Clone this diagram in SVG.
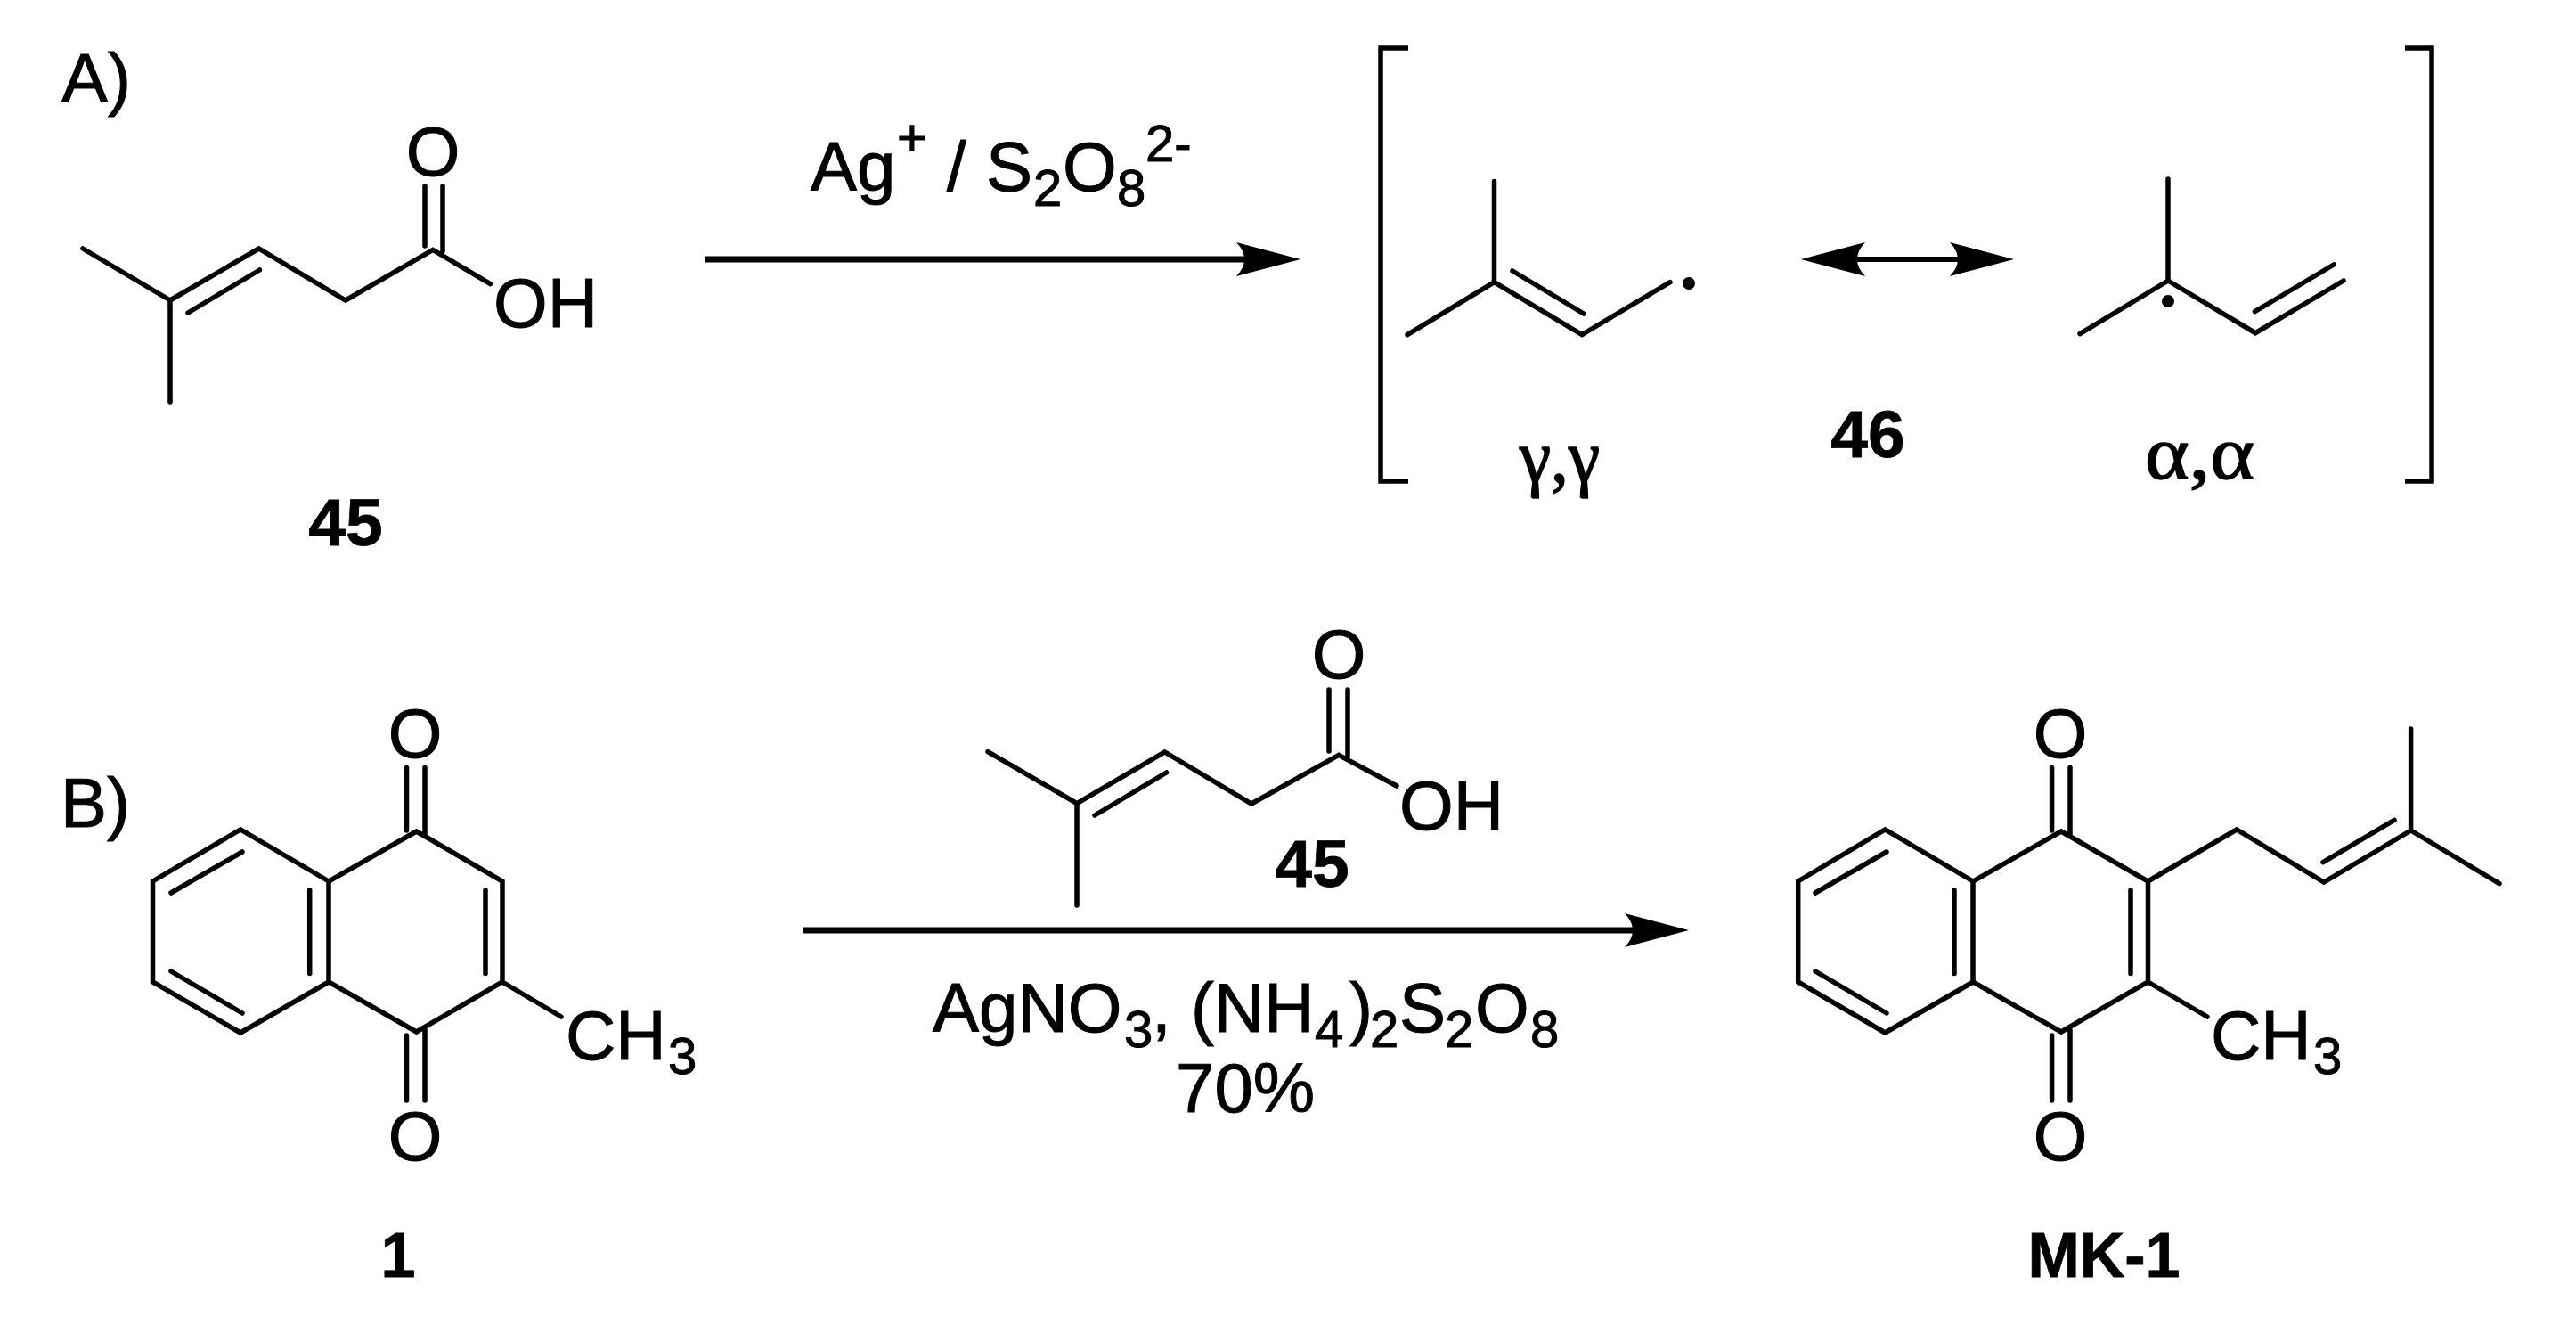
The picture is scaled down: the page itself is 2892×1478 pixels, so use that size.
<svg xmlns="http://www.w3.org/2000/svg" width="2892" height="1478" viewBox="0 0 2892 1478">
<style>
text{font-family:"Liberation Sans",Arial,sans-serif;fill:#000}
.t{font-size:78px;stroke:#000;stroke-width:1}
.s{font-size:58px;stroke:#000;stroke-width:1}
.b{font-size:75px;font-weight:700;stroke:#000;stroke-width:.8}
.c{font-size:70px;font-weight:700;stroke:#000;stroke-width:.8}
.g{font-family:"Liberation Serif","Times New Roman",serif;font-size:84px;stroke:#000;stroke-width:1.5}
.m{text-anchor:middle}
.bond{fill:none;stroke:#000;stroke-width:5.500;stroke-linecap:round;stroke-linejoin:miter}
.arrow{fill:none;stroke:#000;stroke-width:7}
.brk{fill:none;stroke:#000;stroke-width:5.500}
</style>
<defs>
<marker id="head" markerUnits="userSpaceOnUse" markerWidth="72" markerHeight="38" viewBox="0 0 72 38" refX="12" refY="19" orient="auto-start-reverse">
<path d="M72 19L0 0Q18 19 0 38Z" fill="#000"/>
</marker>
</defs>
<rect width="2892" height="1478" fill="#fff"/>
<g id="connectors">
<path class="arrow" d="M791 291H1400" marker-end="url(#head)"/>
<path class="arrow" style="stroke-width:6" d="M2082 291H2201" marker-start="url(#head)" marker-end="url(#head)"/>
<path class="arrow" d="M901 1044H1836" marker-end="url(#head)"/>
</g>
<g id="label-a"><text class="t" x="69" y="115">A)</text></g>
<g id="label-b"><text class="t" x="68" y="928">B)</text></g>
<g id="compound-45-a">
<path class="bond" d="M93 279L191 337V451M191 337L290.500 279L388 337L486 280.400L550.500 318.600M211 351L291.400 303M477 209V276M497 209V282"/>
<text class="t m" x="486" y="197">O</text>
<text class="t" x="554" y="367">OH</text>
<text class="b m" x="388" y="612">45</text>
</g>
<g id="conditions-a">
<text class="t" x="910" y="214">Ag</text>
<text class="s" x="1007" y="174">+</text>
<text class="t" x="1063" y="214">/</text>
<text class="t" x="1107" y="214">S</text>
<text class="s" x="1160" y="231">2</text>
<text class="t" x="1193" y="214">O</text>
<text class="s" x="1254" y="231">8</text>
<text class="s" x="1286" y="181">2-</text>
</g>
<g id="bracket-left"><path class="brk" d="M1581 54H1550V540H1581"/></g>
<g id="bracket-right"><path class="brk" d="M2700 54H2730V540H2700"/></g>
<g id="radical-gamma">
<path class="bond" d="M1677.500 203.600V316.700L1580 375.600M1677.500 316.700L1776 375.600L1875 316.700M1698 304L1778 352"/>
<ellipse cx="1896" cy="318" rx="7" ry="7"/>
<text class="g" x="1706" y="541" textLength="90" lengthAdjust="spacingAndGlyphs">γ,γ</text>
</g>
<g id="compound-46"><text class="b m" x="2097" y="513">46</text></g>
<g id="radical-alpha">
<path class="bond" d="M2434 201V315L2335 374.600M2434 315L2532 373.700L2631 315M2531.400 349.700L2620 297"/>
<ellipse cx="2434" cy="338" rx="7" ry="7"/>
<text class="g" x="2408" y="537" textLength="123" lengthAdjust="spacingAndGlyphs">α,α</text>
</g>
<g id="compound-1">
<path class="bond" d="M467.500 933L564 989V1102L467.500 1158L369 1102V989ZM369 989L270 931L171.500 989V1102L270 1159L369 1102M272 956L192 1002M347.700 999V1092.400M192 1090L272 1137M545 999V1092.400M564 1102L630 1141M456.500 861.500V932M477 861.500V938M456.500 1162V1235M477 1156V1235"/>
<text class="t m" x="466" y="850">O</text>
<text class="t m" x="466" y="1302">O</text>
<text class="t" x="635" y="1189">CH</text>
<text class="s" x="750" y="1205">3</text>
<text class="c m" x="447" y="1433">1</text>
</g>
<g id="compound-45-b">
<path class="bond" d="M1109 843.600L1209 901.600V1016M1209 901.600L1307.600 844L1405 902L1503 847.400L1568 882M1229 915L1309.500 867M1492 774V843M1513 774V849"/>
<text class="t m" x="1503" y="761">O</text>
<text class="t" x="1571" y="931">OH</text>
<text class="b m" x="1473" y="995">45</text>
</g>
<g id="conditions-b">
<text class="t" x="1047" y="1158">AgNO</text>
<text class="s" x="1262" y="1175">3</text>
<text class="t" x="1293" y="1158">,</text>
<text class="t" x="1337" y="1158">(NH</text>
<text class="s" x="1476" y="1175">4</text>
<text class="t" x="1515" y="1158">)</text>
<text class="s" x="1538" y="1175">2</text>
<text class="t" x="1571" y="1158">S</text>
<text class="s" x="1622" y="1175">2</text>
<text class="t" x="1656" y="1158">O</text>
<text class="s" x="1718" y="1175">8</text>
<text class="t" x="1320" y="1248">70%</text>
</g>
<g id="compound-mk1">
<path class="bond" d="M2314 933L2411.500 989V1102L2314 1158L2215 1102V989ZM2215 989L2116.400 931L2018.700 989V1102L2116.400 1159L2215 1102M2118 956L2038 1002M2194 999V1092.400M2038 1090L2118 1137M2392 999V1092.400M2411.500 1102L2478 1141M2411.500 989L2511 931L2609 990L2706.600 932V818M2706.600 932L2806 991.600M2608 967.600L2688 920.400M2303.600 861.500V932M2324 861.500V938M2303.600 1162V1235M2324 1156V1235"/>
<text class="t m" x="2313" y="850">O</text>
<text class="t m" x="2313" y="1302">O</text>
<text class="t" x="2482" y="1189">CH</text>
<text class="s" x="2597" y="1205">3</text>
<text class="c m" x="2362" y="1433">MK-1</text>
</g>
</svg>
